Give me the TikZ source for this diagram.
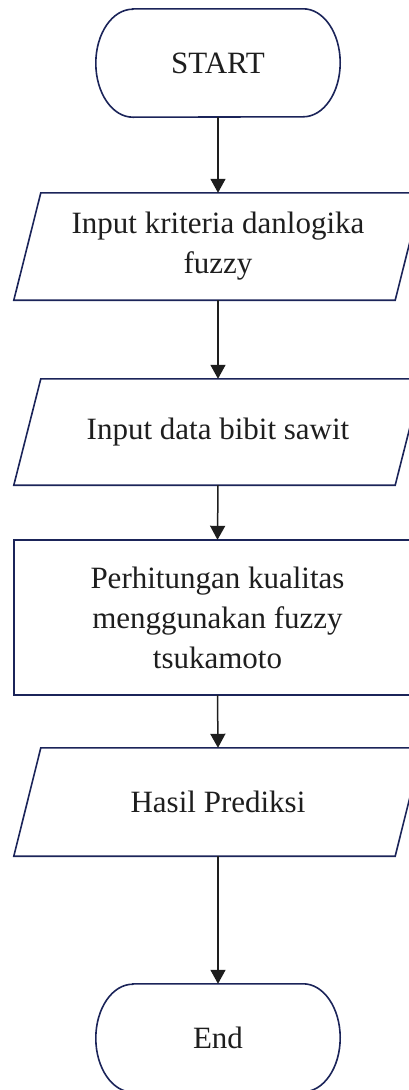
\documentclass[tikz,border=0pt]{standalone}
\usepackage{fontspec}
\setmainfont{Liberation Serif}
\usetikzlibrary{arrows.meta}

\definecolor{edgenavy}{HTML}{1B2459}
\definecolor{inkgray}{HTML}{1E1E1E}

\tikzset{
  box/.style={draw=none, inner sep=0pt, align=center, text=inkgray,
    font=\fontsize{31}{40}\selectfont},
  outline/.style={draw=edgenavy, line width=1.6pt, line join=miter},
  flow/.style={draw=inkgray, line width=1.5pt,
    -{Triangle[width=15pt,length=14pt]}},
}

% terminal outline: straight top and bottom, elliptical ends
\newcommand{\terminalshape}[1]{%
  \draw[outline] ([xshift=37pt]#1.north west) -- ([xshift=-37pt]#1.north east)
    arc[start angle=90, end angle=-90, x radius=37pt, y radius=54pt]
    -- ([xshift=37pt]#1.south west)
    arc[start angle=270, end angle=90, x radius=37pt, y radius=54pt] -- cycle;}

% data (input/output) outline: parallelogram slanted to the right
\newcommand{\datashape}[1]{%
  \draw[outline] ([xshift=-13.5pt]#1.south west) -- ([xshift=-13.5pt]#1.south east)
    -- ([xshift=13.5pt]#1.north east) -- ([xshift=13.5pt]#1.north west) -- cycle;}

\begin{document}
\begin{tikzpicture}[x=1pt, y=-1pt]
  \useasboundingbox (0,0) rectangle (409,1090);
  \clip (0,0) rectangle (409,1090);

  \node[box, minimum width=244pt, minimum height=108pt] (start) at (218,63) {START};
  \node[box, minimum width=381pt, minimum height=107pt] (in1) at (218,246.5)
    {Input kriteria danlogika\\fuzzy};
  \node[box, minimum width=381pt, minimum height=106pt] (in2) at (218,432)
    {Input data bibit sawit};
  \node[box, minimum width=407pt, minimum height=155pt] (proc) at (217.5,617.5)
    {Perhitungan kualitas\\menggunakan fuzzy\\tsukamoto};
  \node[box, minimum width=381pt, minimum height=108pt] (out) at (218,802)
    {Hasil Prediksi};
  \node[box, minimum width=244pt, minimum height=108pt] (end) at (218,1038) {End};

  \terminalshape{start}
  \datashape{in1}
  \datashape{in2}
  \draw[outline] (proc.south west) rectangle (proc.north east);
  \datashape{out}
  \terminalshape{end}

  \draw[flow] (start.south) -- (in1.north);
  \draw[flow] (in1.south) -- (in2.north);
  \draw[flow] (in2.south) -- (proc.north);
  \draw[flow] (proc.south) -- (out.north);
  \draw[flow] (out.south) -- (end.north);
\end{tikzpicture}
\end{document}
